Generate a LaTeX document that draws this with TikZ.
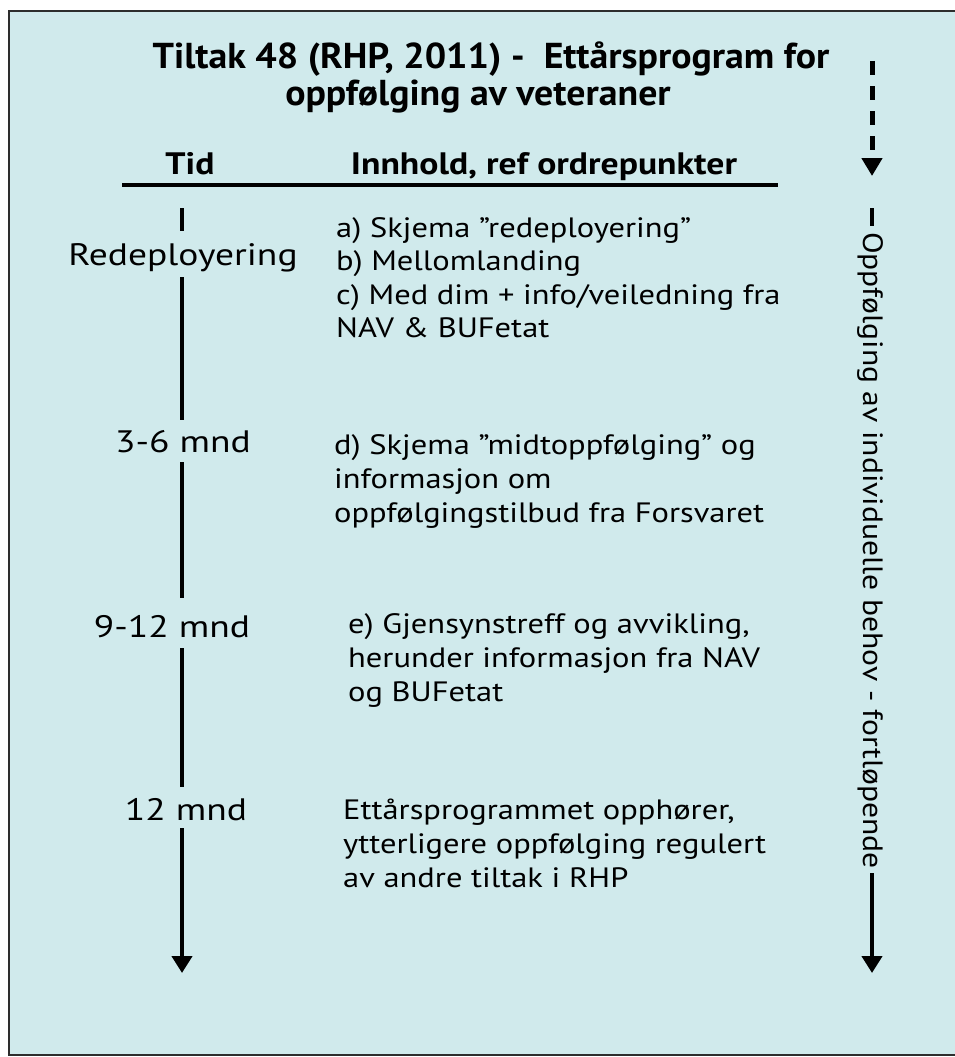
\documentclass[tikz,border=0pt]{standalone}
\usepackage{fontspec}
\setmainfont{PT Sans}
\newfontfamily\bodyfont[FakeStretch=1.16]{PT Sans}
\newfontfamily\sidefont[FakeStretch=1.13]{PT Sans}
\newfontfamily\labelfont[FakeStretch=1.21]{PT Sans}
\newfontfamily\titlefont[FakeStretch=1.05]{PT Sans}
\newfontfamily\headfont[FakeStretch=1.15]{PT Sans}
\usetikzlibrary{arrows.meta}
\definecolor{bgc}{RGB}{208,234,236}
\definecolor{framec}{RGB}{45,45,45}
\tikzset{
  body/.style={anchor=base west, inner sep=0pt, font=\bodyfont\fontsize{28}{33}\selectfont},
  tlabel/.style={anchor=base, inner sep=0pt, font=\labelfont\fontsize{31}{36}\selectfont},
  titletext/.style={anchor=base, inner sep=0pt, font=\titlefont\bfseries\fontsize{36}{40}\selectfont},
  headtext/.style={anchor=base, inner sep=0pt, font=\headfont\bfseries\fontsize{31}{36}\selectfont},
  tline/.style={line width=4.5pt, black},
  tarrow/.style={line width=4.5pt, black, -{Triangle[width=20pt,length=17pt]}},
}
\begin{document}
\begin{tikzpicture}[x=1pt,y=-1pt]
\useasboundingbox (0,0) rectangle (954,1057);
\fill[white] (0,0) rectangle (954,1057);
\draw[fill=bgc, draw=framec, line width=2.5pt] (9,11) rectangle (970,1055);

% title
\node[titletext] (title1) at (491,68) {Tiltak 48 (RHP, 2011) -\ \ Ettårsprogram for};
\node[titletext] (title2) at (478,105) {oppfølging av veteraner};

% headers
\node[headtext] (tid) at (190,174) {Tid};
\node[headtext] (innhold) at (544,174) {Innhold, ref ordrepunkter};
\coordinate (hl) at (122,185);
\coordinate (hr) at (778,185);
\draw[line width=4pt] (hl) -- (hr);

% timeline
\coordinate (t0) at (182,208);
\coordinate (t1) at (182,231);
\node[tlabel] (redep) at (183,265) {Redeployering};
\coordinate (t2) at (182,277);
\coordinate (t3) at (182,420);
\node[tlabel] (m36) at (183,452) {3-6 mnd};
\coordinate (t4) at (182,462);
\coordinate (t5) at (182,598);
\node[tlabel] (m912) at (172,637) {9-12 mnd};
\coordinate (t6) at (182,648);
\coordinate (t7) at (182,787);
\node[tlabel] (m12) at (186,820) {12 mnd};
\coordinate (t8) at (182,828);
\coordinate (t9) at (182,973);
\draw[tline] (t0) -- (t1);
\draw[tline] (t2) -- (t3);
\draw[tline] (t4) -- (t5);
\draw[tline] (t6) -- (t7);
\draw[tarrow] (t8) -- (t9);

% content
\node[body] (a1) at (336,237) {a) Skjema ”redeployering”};
\node[body] (a2) at (336,270) {b) Mellomlanding};
\node[body] (a3) at (336,304) {c) Med dim + info/veiledning fra};
\node[body] (a4) at (336,337) {NAV \& BUFetat};

\node[body] (d1) at (334,454) {d) Skjema ”midtoppfølging” og};
\node[body] (d2) at (334,488) {informasjon om};
\node[body] (d3) at (334,522) {oppfølgingstilbud fra Forsvaret};

\node[body] (e1) at (348,633) {e) Gjensynstreff og avvikling,};
\node[body] (e2) at (348,667) {herunder informasjon fra NAV};
\node[body] (e3) at (348,701) {og BUFetat};

\node[body] (f1) at (343,819) {Ettårsprogrammet opphører,};
\node[body] (f2) at (343,853) {ytterligere oppfølging regulert};
\node[body] (f3) at (343,887) {av andre tiltak i RHP};

% right column
\coordinate (r0) at (872,61);
\coordinate (r1) at (872,176);
\draw[line width=5pt, dash pattern=on 14pt off 11pt, -{Triangle[width=20pt,length=18pt]}] (r0) -- (r1);
\coordinate (r2) at (872,208);
\coordinate (r3) at (872,226);
\draw[line width=4.5pt] (r2) -- (r3);
\node[anchor=base west, inner sep=0pt, rotate=-90, font=\sidefont\fontsize{28}{33}\selectfont] (vtext) at (863,232) {Oppfølging av individuelle behov - fortløpende};
\coordinate (r4) at (872,873);
\coordinate (r5) at (872,973);
\draw[tarrow] (r4) -- (r5);
\end{tikzpicture}
\end{document}
